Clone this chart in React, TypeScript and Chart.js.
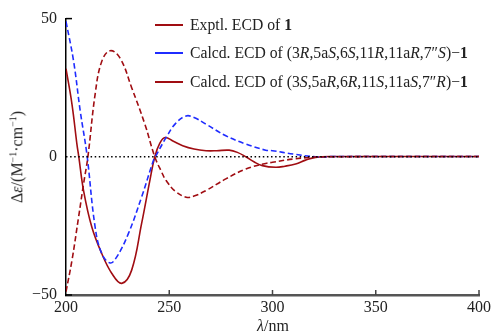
import React, { useEffect, useRef } from "react";
import { Chart, registerables } from "chart.js";

Chart.register(...registerables);

// Experimental ECD of 1
const exptlX = [200, 202.9, 205.3, 206.2, 208.5, 212.5, 217.3, 222.2, 227, 231.8, 236.6, 240.6, 243, 245.5, 248, 252, 256.5, 262, 267.8, 273, 279, 283, 287.1, 291, 295.1, 301.5, 306, 311.2, 316, 320.8, 330, 350, 375, 400];
const exptlY = [31.9, 19, 4.5, 0, -12.2, -25.4, -35, -42.2, -45.8, -41, -24.2, -8.6, 0, 5, 7, 5.6, 4, 2.8, 2.2, 2.2, 2.4, 1.6, 0, -1.8, -3.2, -3.8, -3.4, -2.6, -1.2, -0.2, 0.1, 0.1, 0.1, 0.1];

// Calcd. ECD of (3R,5aS,6S,11R,11aR,7''S)-1
const calcAX = [200, 203.7, 206.9, 210.1, 214.1, 217.3, 221.4, 224.6, 230.2, 236.6, 242.3, 243.3, 248.5, 253, 258.2, 262, 267.8, 277.4, 287.1, 296.7, 300, 310, 320.8, 330, 350, 375, 400];
const calcAY = [49, 34.5, 16.5, 1, -25.4, -35, -38.4, -36.2, -27.8, -14.6, -1.4, 0, 7, 12, 14.8, 14.2, 11.8, 7.6, 4.6, 2.4, 2.2, 1, 0, 0.1, 0.1, 0.1, 0.1];

// Calcd. ECD of (3S,5aR,6R,11S,11aS,7''R)-1
const calcBX = [200, 202.9, 206.1, 208.5, 210.6, 214.1, 217.3, 221.4, 226.2, 231.8, 238.2, 243, 246.3, 248.5, 253, 258.2, 262, 267.8, 277.4, 287.1, 296.7, 300, 310, 320.8, 330, 350, 375, 400];
const calcBY = [-48.8, -37.4, -21.8, -9.8, 0, 22.6, 34.5, 38.4, 35.7, 25, 11.8, 0, -5.5, -8.6, -12.5, -14.6, -14.2, -12.2, -8, -4.4, -2.4, -2, -0.8, -0.1, 0, 0.1, 0.1, 0.1];

const xTicks = [200, 250, 300, 350, 400];
const yTicks = [-50, 0, 50];

const RED = "#a00d12";
const BLUE = "#1f2cff";
const FONT = "'Liberation Serif', 'Times New Roman', serif";

const pts = (xs: number[], ys: number[]) => xs.map((x, i) => ({ x, y: ys[i] }));

const tickPlugin = {
  id: "innerTicks",
  afterDraw(chart: any) {
    const { ctx, scales, chartArea } = chart;
    const xs = scales.x;
    const ys = scales.y;
    ctx.save();
    ctx.strokeStyle = "#444";
    ctx.lineWidth = 1.5;
    xTicks.forEach((v) => {
      if (v === 200) return;
      const px = xs.getPixelForValue(v);
      ctx.beginPath();
      ctx.moveTo(px, chartArea.bottom);
      ctx.lineTo(px, chartArea.bottom - 5);
      ctx.stroke();
    });
    ctx.strokeStyle = "#000";
    yTicks.forEach((v) => {
      if (v === 0) return;
      const py = ys.getPixelForValue(v);
      ctx.beginPath();
      ctx.moveTo(chartArea.left, py);
      ctx.lineTo(chartArea.left + 6, py);
      ctx.stroke();
    });
    ctx.restore();
  },
};

export default function App() {
  const ref = useRef<HTMLCanvasElement | null>(null);
  useEffect(() => {
    if (!ref.current) return;
    const line = { pointRadius: 0, borderWidth: 1.6, tension: 0.4 };
    const chart = new Chart(ref.current, {
      type: "line",
      data: {
        datasets: [
          {
            data: [{ x: 200, y: 0 }, { x: 400, y: 0 }],
            borderColor: "#000",
            borderWidth: 1.5,
            borderDash: [1.5, 2.6],
            pointRadius: 0,
            tension: 0,
          },
          { ...line, data: pts(calcBX, calcBY), borderColor: RED, borderDash: [5.5, 3] },
          { ...line, data: pts(calcAX, calcAY), borderColor: BLUE, borderDash: [5.5, 3] },
          { ...line, data: pts(exptlX, exptlY), borderColor: RED },
        ],
      },
      options: {
        animation: false,
        responsive: false,
        devicePixelRatio: 1,
        layout: { padding: { left: 0, top: 17, right: 13, bottom: 0 } },
        plugins: { legend: { display: false }, tooltip: { enabled: false } },
        scales: {
          x: {
            type: "linear",
            min: 200,
            max: 400,
            afterFit: (s: any) => { s.height = 40; },
            afterBuildTicks: (s: any) => { s.ticks = xTicks.map((v) => ({ value: v })); },
            grid: { display: false, drawTicks: false },
            border: { display: true, color: "#555", width: 2.5 },
            ticks: { font: { family: FONT, size: 16 }, color: "#222", padding: 3, maxRotation: 0 },
          },
          y: {
            type: "linear",
            min: -50,
            max: 50,
            afterFit: (s: any) => { s.width = 66; },
            afterBuildTicks: (s: any) => { s.ticks = yTicks.map((v) => ({ value: v })); },
            grid: { display: false, drawTicks: false },
            border: { display: true, color: "#000", width: 1.5 },
            ticks: {
              font: { family: FONT, size: 16 },
              color: "#222",
              padding: 9,
              callback: (v: any) => (Number(v) < 0 ? "\u2212" + Math.abs(Number(v)) : String(v)),
            },
          },
        },
      },
      plugins: [tickPlugin],
    } as any);
    return () => chart.destroy();
  }, []);

  const legendRow = (top: number, color: string, content: React.ReactNode) => (
    <div style={{ position: "absolute", left: 155, top: top - 10, height: 20, display: "flex", alignItems: "center", whiteSpace: "nowrap" }}>
      <div style={{ width: 28, height: 2, background: color, marginRight: 7 }} />
      <span>{content}</span>
    </div>
  );

  return (
    <div style={{ position: "fixed", left: 0, top: 0, width: 494, height: 335, background: "#fff", fontFamily: FONT, fontSize: 15.7, color: "#222" }}>
      <canvas ref={ref} width={494} height={335} style={{ width: 494, height: 335, display: "block" }} />
      {legendRow(25, RED, <>Exptl. ECD of <b>1</b></>)}
      {legendRow(53, BLUE, <>Calcd. ECD of (3<i>R</i>,5a<i>S</i>,6<i>S</i>,11<i>R</i>,11a<i>R</i>,7″<i>S</i>)−<b>1</b></>)}
      {legendRow(82, RED, <>Calcd. ECD of (3<i>S</i>,5a<i>R</i>,6<i>R</i>,11<i>S</i>,11a<i>S</i>,7″<i>R</i>)−<b>1</b></>)}
      <div style={{ position: "absolute", left: 273, top: 326, transform: "translate(-50%, -50%)", fontSize: 16, whiteSpace: "nowrap" }}>
        <i>λ</i>/nm
      </div>
      <div style={{ position: "absolute", left: 17, top: 157, transform: "translate(-50%, -50%) rotate(-90deg)", fontSize: 16, whiteSpace: "nowrap" }}>
        Δ<i>ε</i>/(M<sup style={{ fontSize: 10 }}>−1</sup>·cm<sup style={{ fontSize: 10 }}>−1</sup>)
      </div>
    </div>
  );
}
